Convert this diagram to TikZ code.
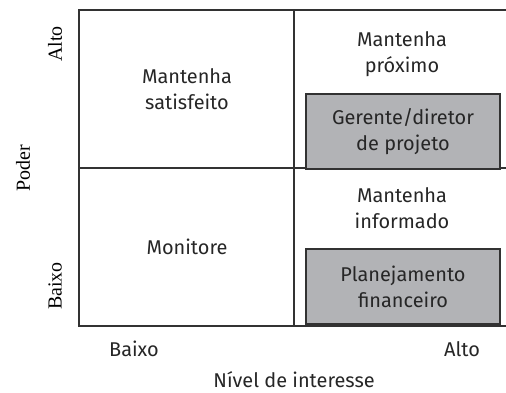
\documentclass[tikz,border=0pt]{standalone}
\usepackage{fontspec}
\setmainfont{Fira Sans}
\newfontfamily\axisfont{Liberation Serif}
\usetikzlibrary{positioning}
\definecolor{boxgray}{RGB}{178,179,182}
\definecolor{linegray}{RGB}{50,50,50}
\tikzset{cell/.style={align=center, text=black!85, font=\fontsize{20}{26}\selectfont},
  stake/.style={cell, draw=linegray, line width=1.3pt, fill=boxgray, minimum width=194bp, minimum height=75bp},
  axis/.style={font=\axisfont\fontsize{20}{24}\selectfont, rotate=90}}

\begin{document}
\begin{tikzpicture}[x=1bp, y=-1bp]
\useasboundingbox (0,0) rectangle (506,392);
% grid
\draw [linegray, line width=1.2pt] (506,10) -- (79,10) -- (79,326) -- (506,326);
\draw [linegray, line width=1.2pt] (79,168) -- (506,168);
\draw [linegray, line width=1.2pt] (294,10) -- (294,326);
% quadrants
\node [cell] (satisfeito) at (187,89) {Mantenha\\satisfeito};
\node [cell] (proximo) at (402,54) {Mantenha\\próximo};
\node [stake] (gerente) at (403,131.5) {Gerente/diretor\\de projeto};
\node [cell] (informado) at (402,208) {Mantenha\\informado};
\node [cell] (monitore) at (187,247) {Monitore};
\node [stake] (planejamento) at (403,286.5) {Planejamento\\financeiro};
% axes
\node [axis] (poder) at (23,168) {Poder};
\node [axis] (altoy) at (55,44) {Alto};
\node [axis] (baixoy) at (55,286) {Baixo};
\node [cell] (baixox) at (134,349) {Baixo};
\node [cell] (altox) at (462,349) {Alto};
\node [cell] (interesse) at (294,380) {Nível de interesse};
\end{tikzpicture}
\end{document}
